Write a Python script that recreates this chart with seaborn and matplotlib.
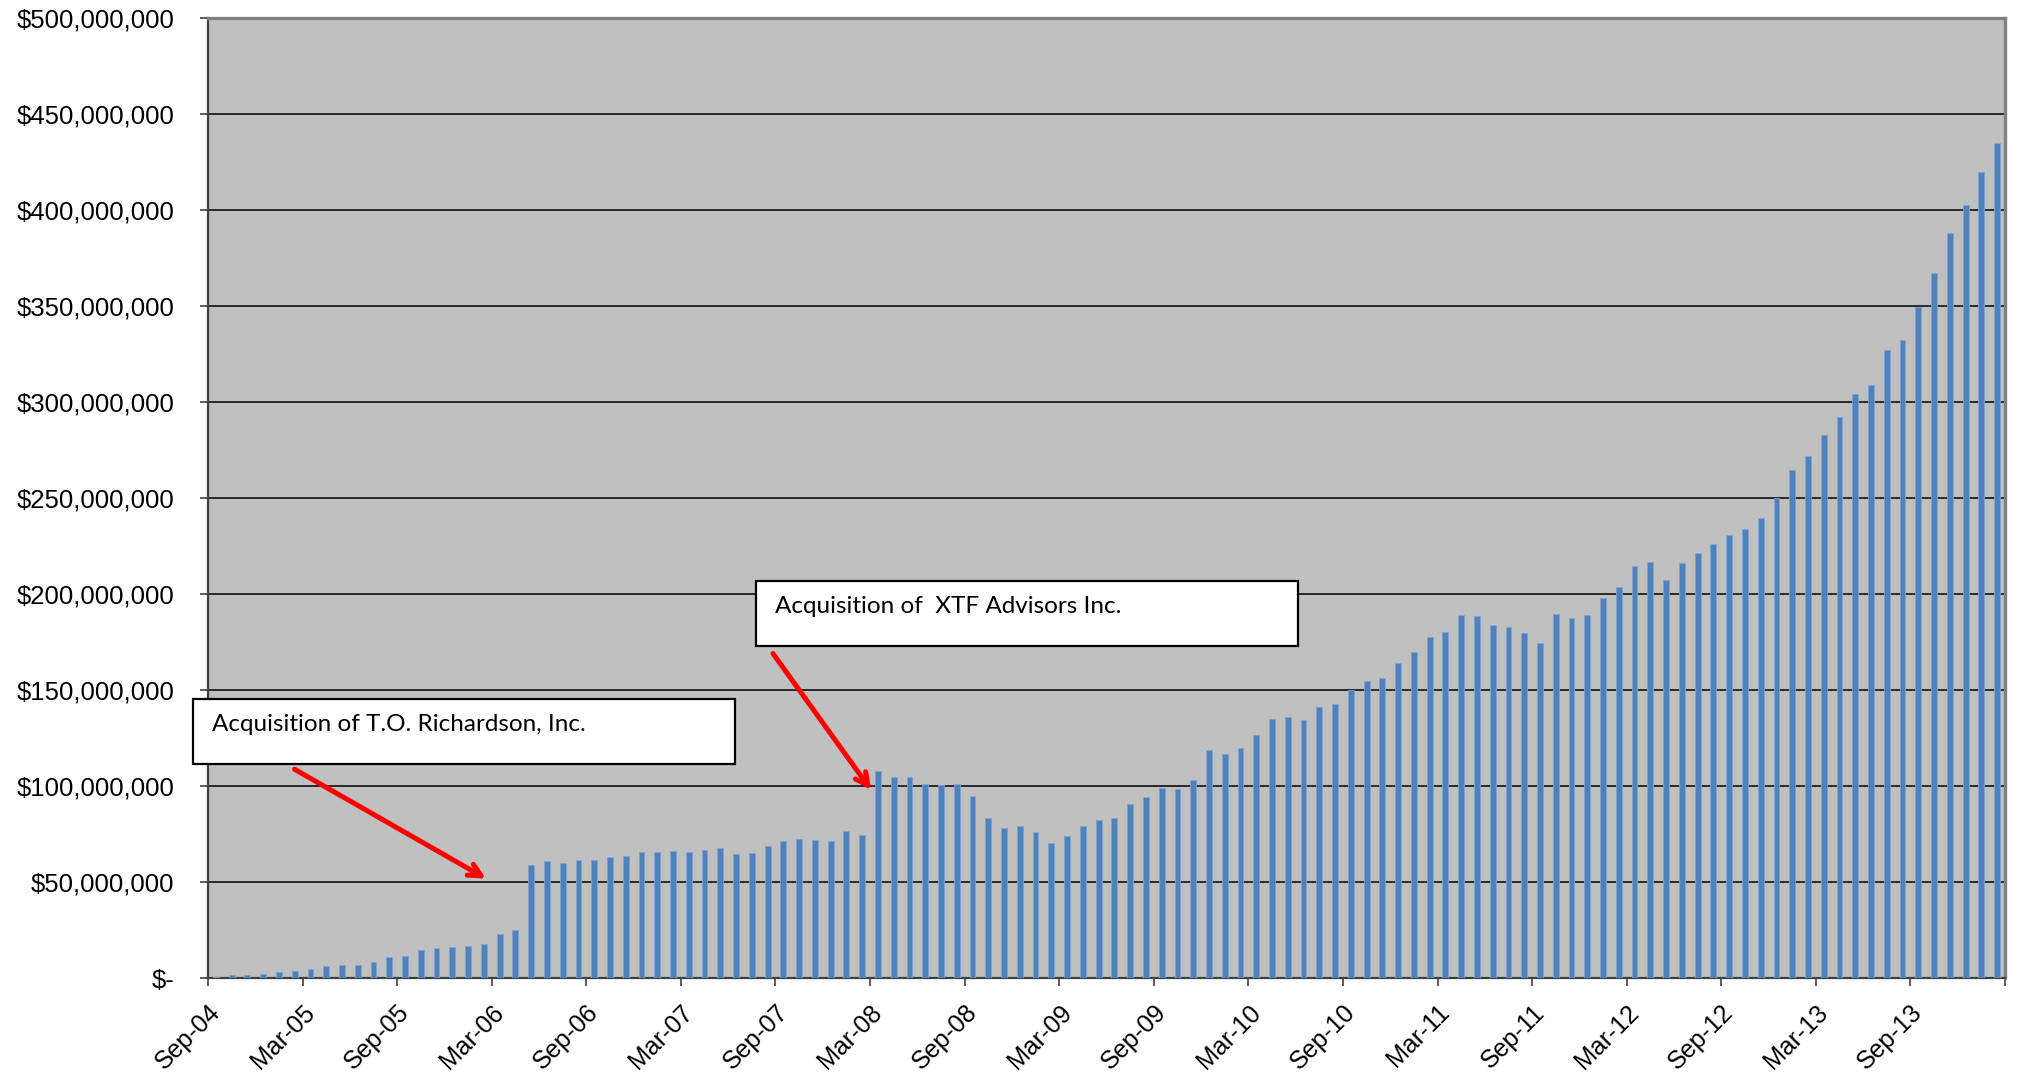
import numpy as np
import pandas as pd
import matplotlib
matplotlib.use("Agg")
import matplotlib.pyplot as plt
import matplotlib.patches as mpatches
from matplotlib.ticker import FuncFormatter, MultipleLocator
import seaborn as sns

# Month-end assets, in millions of dollars, Sep-2004 through Feb-2014
aum_millions = [
    0.7, 1.6, 1.7, 1.9, 3.0, 3.8, 4.9, 6.3, 6.6, 7.0, 8.4, 10.7,
    11.7, 14.7, 15.7, 15.9, 16.6, 17.7, 22.9, 24.8, 58.7, 61.0, 60.0, 61.5,
    61.7, 63.1, 63.8, 65.7, 65.4, 65.9, 65.7, 66.8, 67.7, 64.5, 65.2, 68.7,
    71.3, 72.4, 72.1, 71.6, 76.5, 74.4, 107.8, 104.5, 104.7, 100.9, 100.7, 101.2,
    94.6, 83.4, 78.0, 79.4, 76.1, 70.2, 73.7, 79.3, 82.2, 83.3, 90.4, 94.3,
    99.0, 98.4, 103.1, 118.6, 116.7, 119.7, 126.7, 135.1, 135.8, 134.4, 141.3, 142.7,
    150.2, 154.5, 156.4, 164.1, 169.8, 177.8, 180.4, 188.9, 188.5, 184.0, 182.6, 179.5,
    174.3, 189.4, 187.5, 188.9, 197.9, 203.6, 214.4, 216.7, 207.3, 216.3, 221.4, 226.2,
    230.7, 234.0, 239.7, 249.9, 264.5, 272.0, 282.8, 292.3, 304.0, 309.1, 327.1, 332.1,
    349.5, 367.4, 388.1, 402.8, 419.8, 434.8,
]
months = pd.date_range("2004-09-01", periods=len(aum_millions), freq="MS").strftime("%b-%y").tolist()

tick_labels = ["Sep-04", "Mar-05", "Sep-05", "Mar-06", "Sep-06", "Mar-07", "Sep-07",
               "Mar-08", "Sep-08", "Mar-09", "Sep-09", "Mar-10", "Sep-10", "Mar-11",
               "Sep-11", "Mar-12", "Sep-12", "Mar-13", "Sep-13", ""]

annotation_texts = ["Acquisition of T.O. Richardson, Inc.", "Acquisition of  XTF Advisors Inc."]

df = pd.DataFrame({"month": months, "aum": np.array(aum_millions) * 1e6})

W, H, DPI = 2017, 1077, 100
fig = plt.figure(figsize=(W / DPI, H / DPI), dpi=DPI, facecolor="white")
ax = fig.add_axes([208 / W, 1 - 978 / H, (2005 - 208) / W, (978 - 18) / H])
ax.set_facecolor("#C0C0C0")

sns.barplot(data=df, x="month", y="aum", order=months, color="#4F81BD",
            saturation=1, width=0.37, edgecolor="#7FA3CF", linewidth=0.6,
            ax=ax, zorder=3)

ax.set_xlim(-0.5, len(months) - 0.5)
ax.set_ylim(0, 500e6)
ax.set_xlabel("")
ax.set_ylabel("")

# horizontal gridlines every $50M
ax.yaxis.set_major_locator(MultipleLocator(50e6))
ax.yaxis.grid(True, color="black", linewidth=1.1, zorder=1)
ax.xaxis.grid(False)
ax.set_axisbelow(True)

def dollar_fmt(v, _):
    if abs(v) < 1:
        return "$-"
    return "${:,.0f}".format(v)

ax.yaxis.set_major_formatter(FuncFormatter(dollar_fmt))

tick_pos = np.arange(-0.5, len(months), 6)
ax.set_xticks(tick_pos)
ax.set_xticklabels(tick_labels[:len(tick_pos)])

y_font = matplotlib.font_manager.FontProperties(family=["Liberation Sans", "DejaVu Sans"], size=18.5)
x_font = matplotlib.font_manager.FontProperties(family=["Liberation Sans", "DejaVu Sans"], size=18)
for lab in ax.get_yticklabels():
    lab.set_fontproperties(y_font)
for lab in ax.get_xticklabels():
    lab.set_fontproperties(x_font)
    lab.set_rotation(45)
    lab.set_ha("right")
    lab.set_va("top")
    lab.set_rotation_mode("anchor")

ax.tick_params(axis="y", direction="out", length=6, width=1.2, color="#404040", pad=18)
ax.tick_params(axis="x", direction="out", length=6, width=1.2, color="#404040", pad=10)

for side in ["left", "bottom"]:
    ax.spines[side].set_color("#404040")
    ax.spines[side].set_linewidth(1.6)
for side in ["top", "right"]:
    ax.spines[side].set_color("#808080")
    ax.spines[side].set_linewidth(2.4)

# callout boxes with arrows
box_font = dict(family=["Lato", "DejaVu Sans"], size=17.5)
boxes = [(-0.0083, 0.2229, 0.3016, 0.0677), (0.305, 0.3458, 0.3016, 0.0677)]
for (bx, by, bw, bh), txt in zip(boxes, annotation_texts):
    ax.add_patch(mpatches.Rectangle((bx, by), bw, bh, transform=ax.transAxes,
                                    facecolor="white", edgecolor="black",
                                    linewidth=1.6, zorder=6, clip_on=False))
    ax.text(bx + 0.0105, by + bh - 0.027, txt, transform=ax.transAxes,
            ha="left", va="center", zorder=7, **box_font)

arrows = [((0.0482, 0.2174), (0.1547, 0.1035)), ((0.3144, 0.338), (0.369, 0.1958))]
for start, end in arrows:
    ax.annotate("", xy=end, xytext=start, xycoords="axes fraction",
                textcoords="axes fraction", zorder=8,
                arrowprops=dict(arrowstyle="->,head_length=0.9,head_width=0.45",
                                color="#FF0000", lw=3.6, shrinkA=0, shrinkB=0))

fig.savefig("out.png", dpi=DPI, facecolor="white")
